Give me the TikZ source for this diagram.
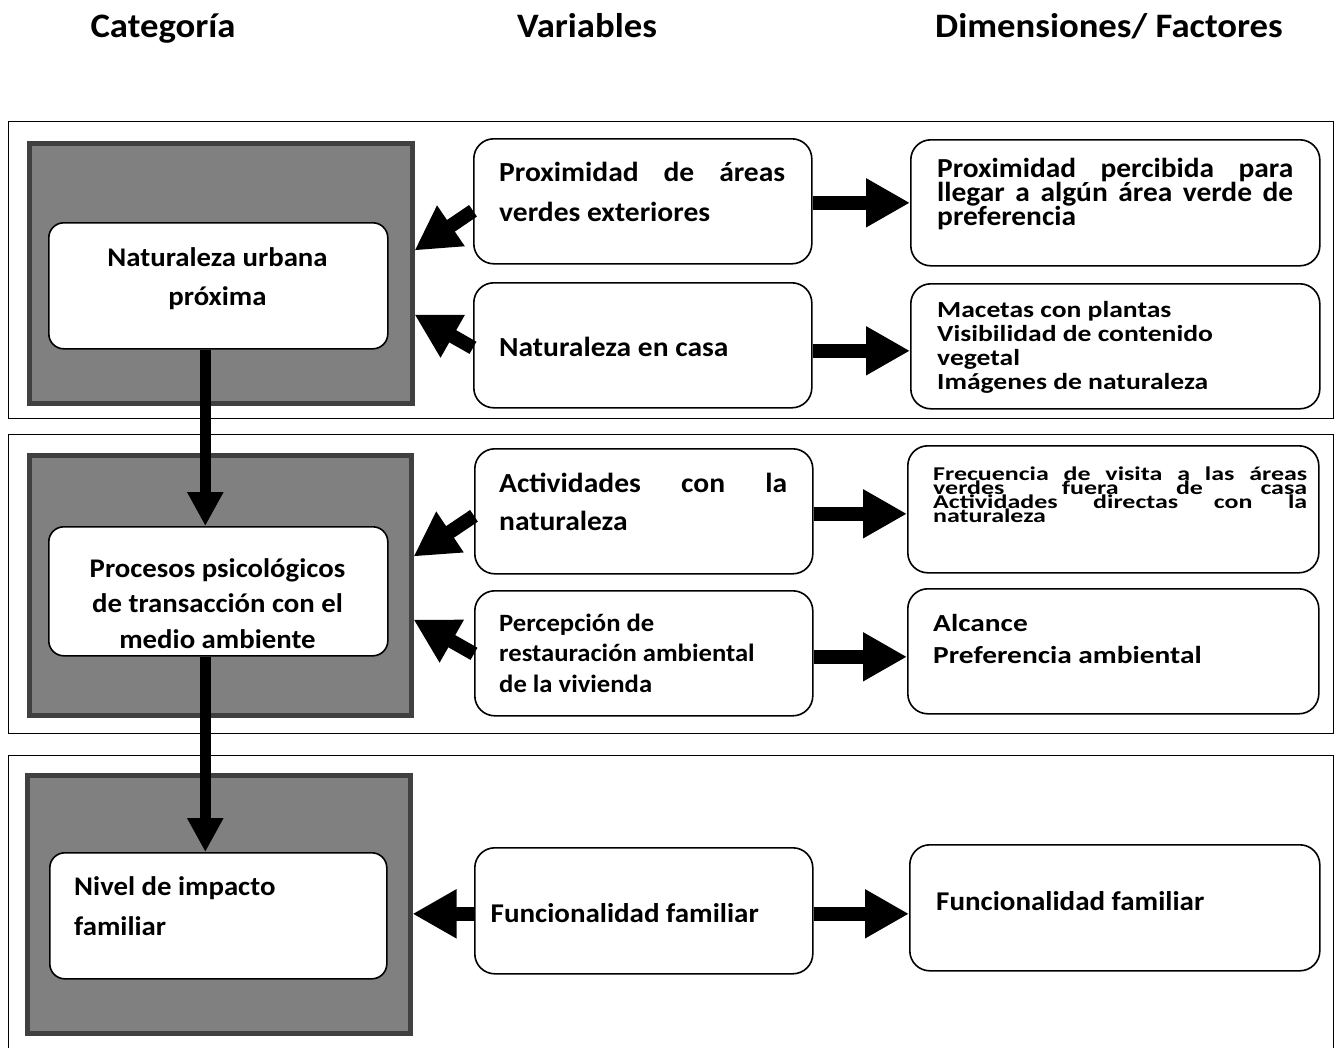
\documentclass[tikz,border=0pt]{standalone}
\usepackage{fontspec}
\setmainfont{Carlito}
\newfontfamily\fontA[FakeStretch=1.07]{Carlito}
\newfontfamily\fontB[FakeStretch=1.2]{Carlito}
\newfontfamily\fontC[FakeStretch=1.33]{Carlito}
\usetikzlibrary{arrows.meta,calc}
\definecolor{catfill}{gray}{0.5}
\definecolor{catedge}{gray}{0.25}
\lineskiplimit=-1000pt
% text block whose baseline is the baseline of its first line
\newcommand\txtblock[3]{\parbox[t]{#1}{#2#3}}

\begin{document}
\begin{tikzpicture}[x=1pt,y=-1pt,
  sectionbox/.style={draw=black, line width=1.4pt, inner sep=0, anchor=north west},
  catbox/.style={draw=catedge, fill=catfill, line width=5pt, inner sep=0, anchor=north west},
  roundbox/.style={draw=black, fill=white, line width=1.6pt, rounded corners=20pt, inner sep=0, anchor=north west},
  catwhite/.style={roundbox, rounded corners=15pt},
  txt/.style={inner sep=0, anchor=base west},
  ctxt/.style={inner sep=0, anchor=base},
  fatarrow/.style={line width=14pt, -{Triangle[length=44pt,width=46pt]}},
  downarrow/.style={line width=11pt, -{Triangle[length=34pt,width=34pt]}},
]
\useasboundingbox (0,0) rectangle (1338,1047);

% headings
\node[ctxt] (hCat) at (163,37) {\fontA\bfseries\fontsize{34.3}{40}\selectfont Categoría};
\node[ctxt] (hVar) at (587,37) {\fontA\bfseries\fontsize{34.3}{40}\selectfont Variables};
\node[ctxt] (hDim) at (1109,37) {\fontA\bfseries\fontsize{34.3}{40}\selectfont Dimensiones/ Factores};

% the three bands
\node[sectionbox, minimum width=1325, minimum height=297] (S1) at (8,121) {};
\node[sectionbox, minimum width=1325, minimum height=299] (S2) at (8,434) {};
\node[sectionbox, minimum width=1325, minimum height=330] (S3) at (8,755) {};

% grey category panels
\node[catbox, minimum width=383, minimum height=260] (G1) at (26.5,140.5) {};
\node[catbox, minimum width=382, minimum height=260] (G2) at (26.5,452.5) {};
\node[catbox, minimum width=383, minimum height=258] (G3) at (24.5,772.5) {};

% category boxes
\node[catwhite, minimum width=339, minimum height=126] (B1) at (48,222) {};
\node[catwhite, minimum width=339, minimum height=129] (B2) at (48,526) {};
\node[catwhite, minimum width=337, minimum height=126] (B3) at (49,852) {};

% variable boxes
\node[roundbox, minimum width=338, minimum height=125] (V1) at (473,138) {};
\node[roundbox, minimum width=338, minimum height=125] (V2) at (473,282) {};
\node[roundbox, minimum width=338, minimum height=125] (V3) at (474,448) {};
\node[roundbox, minimum width=338, minimum height=125] (V4) at (474,590) {};
\node[roundbox, minimum width=338, minimum height=126] (V5) at (474,847) {};

% dimension boxes
\node[roundbox, minimum width=409, minimum height=126] (R1) at (910,139) {};
\node[roundbox, minimum width=409, minimum height=125] (R2) at (910,283) {};
\node[roundbox, minimum width=411, minimum height=127] (R3) at (907,445) {};
\node[roundbox, minimum width=411, minimum height=125] (R4) at (907,588) {};
\node[roundbox, minimum width=410, minimum height=126] (R5) at (909,844) {};

% texts of the category boxes
\node[ctxt] (tB1) at (217.5,266) {\txtblock{330pt}{\centering\fontA\bfseries\fontsize{26.9}{39}\selectfont}{Naturaleza urbana\\próxima}};
\node[ctxt] (tB2) at (217.5,577) {\txtblock{330pt}{\centering\fontA\bfseries\fontsize{26.9}{35.5}\selectfont}{Procesos psicológicos\\de transacción con el\\medio ambiente}};
\node[txt] (tB3) at (74,895) {\txtblock{300pt}{\raggedright\fontA\bfseries\fontsize{26.9}{40}\selectfont}{Nivel de impacto\\familiar}};

% texts of the variable boxes
\node[txt] (tV1) at (499,181) {\txtblock{300pt}{\raggedright\fontA\bfseries\fontsize{27.6}{40}\selectfont}{\makebox[286pt][s]{Proximidad de áreas}\\verdes exteriores}};
\node[txt] (tV2) at (499,356) {\fontA\bfseries\fontsize{27.6}{40}\selectfont Naturaleza en casa};
\node[txt] (tV3) at (499,492) {\txtblock{300pt}{\raggedright\fontA\bfseries\fontsize{27.6}{38}\selectfont}{\makebox[288pt][s]{Actividades con la}\\naturaleza}};
\node[txt] (tV4) at (499,631) {\txtblock{300pt}{\raggedright\fontA\bfseries\fontsize{24.9}{30.5}\selectfont}{Percepción de\\restauración ambiental\\de la vivienda}};
\node[txt] (tV5) at (490.5,922) {\fontA\bfseries\fontsize{27.1}{40}\selectfont Funcionalidad familiar};

% texts of the dimension boxes
\node[txt] (tR1) at (937,177) {\txtblock{360pt}{\raggedright\fontA\bfseries\fontsize{27.5}{24}\selectfont}{\makebox[356pt][s]{Proximidad percibida para}\\\makebox[356pt][s]{llegar a algún área verde de}\\preferencia}};
\node[txt] (tR2) at (937,317) {\txtblock{360pt}{\raggedright\fontB\bfseries\fontsize{23}{24}\selectfont}{Macetas con plantas\\Visibilidad de contenido\\vegetal\\Imágenes de naturaleza}};
\node[txt] (tR3) at (933,480) {\txtblock{376pt}{\raggedright\fontC\bfseries\fontsize{19.5}{14}\selectfont}{\makebox[374pt][s]{Frecuencia de visita a las áreas}\\\makebox[374pt][s]{verdes fuera de casa}\\\makebox[374pt][s]{Actividades directas con la}\\naturaleza}};
\node[txt] (tR4) at (933,631) {\txtblock{376pt}{\raggedright\fontB\bfseries\fontsize{24.5}{32}\selectfont}{Alcance\\Preferencia ambiental}};
\node[txt] (tR5) at (936,910) {\fontA\bfseries\fontsize{27.1}{40}\selectfont Funcionalidad familiar};

% flow between categories
\draw[downarrow] ($(B1.south)+(-13,0)$) -- ($(B2.north)+(-13,0)$);
\draw[downarrow] ($(B2.south)+(-13,0)$) -- ($(B3.north)+(-13,0)$);

% variables towards their dimensions
\coordinate (r1) at ($(V1.east)+(0,1.5)$);
\coordinate (r2) at ($(V2.east)+(0,5.5)$);
\coordinate (r3) at ($(V3.east)+(0,2.5)$);
\coordinate (r4) at ($(V4.east)+(0,3.5)$);
\coordinate (r5) at ($(V5.east)+(0,3)$);
\draw[fatarrow] (r1) -- (r1 -| R1.west);
\draw[fatarrow] (r2) -- (r2 -| R2.west);
\draw[fatarrow] (r3) -- (r3 -| R3.west);
\draw[fatarrow] (r4) -- (r4 -| R4.west);
\draw[fatarrow] (r5) -- (r5 -| R5.west);

% variables towards their category
\draw[fatarrow] ($(V1.west)+(0,9.5)$) -- ($(G1.east)+(0,-22.5)$);
\draw[fatarrow] ($(V2.west)+(0,2.5)$) -- ($(G1.east)+(0,41.5)$);
\draw[fatarrow] ($(V3.west)+(0,4.5)$) -- ($(G2.east)+(0,-28.5)$);
\draw[fatarrow] ($(V4.west)+(0,0.5)$) -- ($(G2.east)+(0,34.5)$);
\coordinate (l5) at ($(V5.west)+(0,3)$);
\draw[fatarrow] (l5) -- (l5 -| G3.east);
\end{tikzpicture}
\end{document}
